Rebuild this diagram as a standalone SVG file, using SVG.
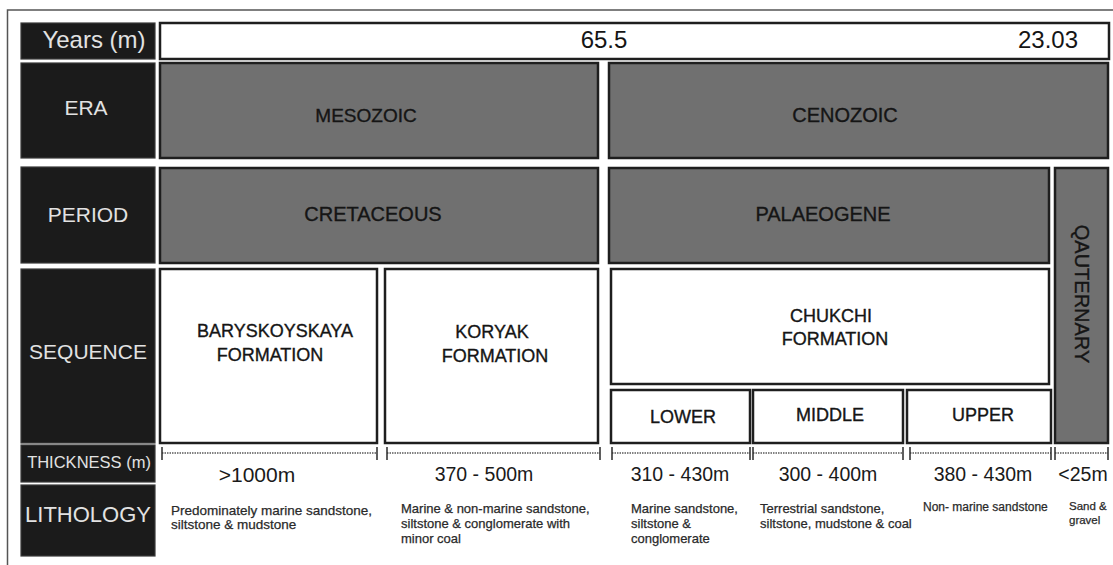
<svg xmlns="http://www.w3.org/2000/svg" width="1113" height="565" viewBox="0 0 1113 565">
<style>
text{font-family:"Liberation Sans",Arial,sans-serif}
.lab{fill:#1b1b1b;stroke:#3a3a3a;stroke-width:1.2}
.labt{fill:#e2e2e2;text-anchor:middle;font-size:21px}
.grey{fill:#707070;stroke:#1e1e1e;stroke-width:2.5}
.white{fill:#ffffff;stroke:#1e1e1e;stroke-width:2.5}
.t{fill:#151515;stroke:#151515;stroke-width:0.35;text-anchor:middle;font-size:19px}
.ts{fill:#151515;stroke:#151515;stroke-width:0.35;text-anchor:middle;font-size:18px}
.dim{stroke:#5a5a5a;stroke-width:1.6;stroke-dasharray:1.5 1}
.tick{stroke:#2a2a2a;stroke-width:1.5}
.thk{fill:#1a1a1a;text-anchor:middle;font-size:19.5px}
.lit{fill:#2a2a2a;stroke:#2a2a2a;stroke-width:0.25;font-size:13px}
</style>
<rect width="1113" height="565" fill="#ffffff"/>
<path d="M1113 10 H7.5 V565" fill="none" stroke="#555" stroke-width="1.5"/>

<g id="label-years"><rect class="lab" x="21" y="23" width="134" height="36"/><text class="labt" x="94" y="48" style="font-size:24px">Years (m)</text></g>
<g id="label-era"><rect class="lab" x="21" y="63" width="134" height="95"/><text class="labt" x="86" y="115">ERA</text></g>
<g id="label-period"><rect class="lab" x="21" y="167" width="134" height="96"/><text class="labt" x="88" y="222">PERIOD</text></g>
<g id="label-sequence"><rect class="lab" x="21" y="269" width="134" height="174"/><text class="labt" x="88" y="359">SEQUENCE</text></g>
<g id="label-thickness"><rect class="lab" x="21" y="445" width="134" height="37"/><text class="labt" x="89" y="468" style="font-size:16.5px">THICKNESS (m)</text></g>
<g id="label-lithology"><rect class="lab" x="21" y="485" width="134" height="71"/><text class="labt" x="88" y="522" style="font-size:22px">LITHOLOGY</text></g>

<g id="years-bar"><rect class="white" x="160" y="23" width="949" height="36"/>
<text x="604" y="48" text-anchor="middle" font-size="24" fill="#151515">65.5</text>
<text x="1018" y="48" font-size="24" fill="#151515">23.03</text></g>

<g id="era-mesozoic"><rect class="grey" x="160" y="63" width="438" height="95"/><text class="t" x="366" y="122">MESOZOIC</text></g>
<g id="era-cenozoic"><rect class="grey" x="609" y="63" width="499" height="95"/><text class="t" x="845" y="122" style="font-size:20px">CENOZOIC</text></g>

<g id="period-cretaceous"><rect class="grey" x="160" y="168" width="438" height="95"/><text class="t" x="373" y="221" style="font-size:20px">CRETACEOUS</text></g>
<g id="period-palaeogene"><rect class="grey" x="609" y="168" width="440" height="95"/><text class="t" x="823" y="221" style="font-size:20px">PALAEOGENE</text></g>
<g id="period-quaternary"><rect class="grey" x="1055" y="168" width="53" height="275"/><text class="t" transform="translate(1075,294) rotate(90)" style="font-size:20px">QAUTERNARY</text></g>

<g id="seq-baryskoyskaya"><rect class="white" x="160" y="269" width="217" height="174"/><text class="ts" x="275" y="337">BARYSKOYSKAYA</text><text class="ts" x="270" y="361">FORMATION</text></g>
<g id="seq-koryak"><rect class="white" x="385" y="269" width="213" height="174"/><text class="ts" x="492" y="338">KORYAK</text><text class="ts" x="495" y="362">FORMATION</text></g>
<g id="seq-chukchi"><rect class="white" x="611" y="269" width="438" height="115"/><text class="ts" x="831" y="322">CHUKCHI</text><text class="ts" x="835" y="345">FORMATION</text></g>
<g id="seq-lower"><rect class="white" x="611" y="390" width="139" height="53"/><text class="ts" x="683" y="423">LOWER</text></g>
<g id="seq-middle"><rect class="white" x="753" y="390" width="150" height="53"/><text class="ts" x="830" y="421">MIDDLE</text></g>
<g id="seq-upper"><rect class="white" x="907" y="390" width="144" height="53"/><text class="ts" x="983" y="421">UPPER</text></g>

<g id="thickness-scales">
<line class="dim" x1="162" y1="453" x2="377" y2="453"/><line class="tick" x1="162" y1="447" x2="162" y2="460"/><line class="tick" x1="377" y1="447" x2="377" y2="460"/>
<line class="dim" x1="387" y1="453" x2="600" y2="453"/><line class="tick" x1="387" y1="447" x2="387" y2="460"/><line class="tick" x1="600" y1="447" x2="600" y2="460"/>
<line class="dim" x1="612" y1="453" x2="750" y2="453"/><line class="tick" x1="612" y1="447" x2="612" y2="460"/><line class="tick" x1="750" y1="447" x2="750" y2="460"/>
<line class="dim" x1="753" y1="453" x2="903" y2="453"/><line class="tick" x1="753" y1="447" x2="753" y2="460"/><line class="tick" x1="903" y1="447" x2="903" y2="460"/>
<line class="dim" x1="910" y1="453" x2="1051" y2="453"/><line class="tick" x1="910" y1="447" x2="910" y2="460"/><line class="tick" x1="1051" y1="447" x2="1051" y2="460"/>
<line class="dim" x1="1055" y1="453" x2="1108" y2="453"/><line class="tick" x1="1055" y1="447" x2="1055" y2="460"/><line class="tick" x1="1108" y1="447" x2="1108" y2="460"/>
</g>

<g id="thickness-values">
<text class="thk" x="257" y="482" style="font-size:21px">&gt;1000m</text>
<text class="thk" x="484" y="481">370 - 500m</text>
<text class="thk" x="680" y="481">310 - 430m</text>
<text class="thk" x="828" y="481">300 - 400m</text>
<text class="thk" x="983" y="481">380 - 430m</text>
<text class="thk" x="1083" y="481">&lt;25m</text>
</g>

<g id="lithology">
<text class="lit" x="171" y="515" style="font-size:13.5px">Predominately marine sandstone,<tspan x="171" dy="14">siltstone &amp; mudstone</tspan></text>
<text class="lit" x="401" y="513">Marine &amp; non-marine sandstone,<tspan x="401" dy="15">siltstone &amp; conglomerate with</tspan><tspan x="401" dy="15">minor coal</tspan></text>
<text class="lit" x="631" y="513">Marine sandstone,<tspan x="631" dy="15">siltstone &amp;</tspan><tspan x="631" dy="15">conglomerate</tspan></text>
<text class="lit" x="760" y="513">Terrestrial sandstone,<tspan x="760" dy="15">siltstone, mudstone &amp; coal</tspan></text>
<text class="lit" x="923" y="511" style="font-size:12px">Non- marine sandstone</text>
<text class="lit" x="1069" y="510" style="font-size:11.5px">Sand &amp;<tspan x="1069" dy="14">gravel</tspan></text>
</g>
</svg>
